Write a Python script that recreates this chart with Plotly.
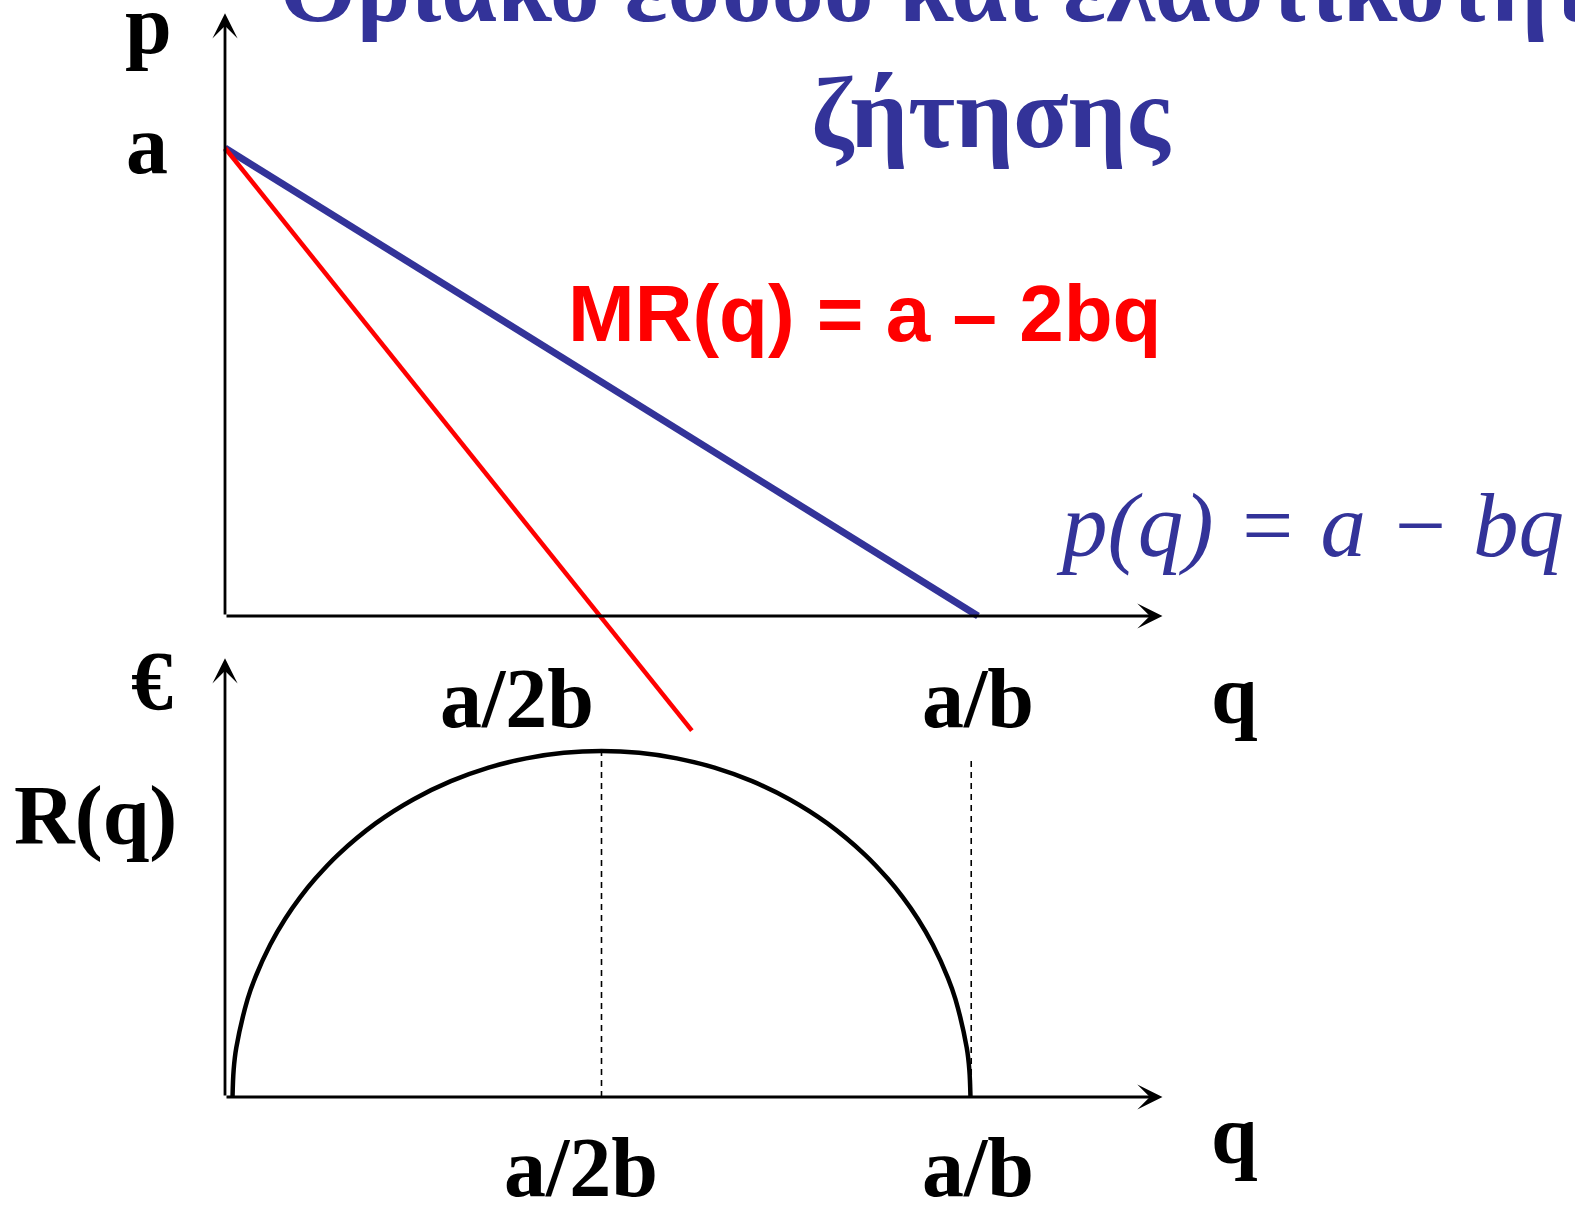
import plotly.graph_objects as go

# ---------------- data (a = b = 1) ----------------
demand_q = [0.0, 1.0]
demand_p = [1.0, 0.0]
mr_q = [0.0, 0.62]
mr_p = [1.0, -0.245]

rev_q = [0.01, 0.0115, 0.015, 0.03, 0.04, 0.06, 0.08, 0.10, 0.12, 0.15, 0.20, 0.25, 0.30,
         0.35, 0.40, 0.45, 0.50, 0.55, 0.60, 0.65, 0.70, 0.75, 0.80, 0.85, 0.88, 0.90,
         0.92, 0.94, 0.96, 0.97, 0.985, 0.9885, 0.99]
rev_r = [0.0, 0.0196, 0.0356, 0.0707, 0.0861, 0.110, 0.1288, 0.1444, 0.1578, 0.175, 0.1977,
         0.2150, 0.2282, 0.2380, 0.2447, 0.2487, 0.25, 0.2487, 0.2447, 0.2380, 0.2282,
         0.2150, 0.1977, 0.175, 0.1578, 0.1444, 0.1288, 0.110, 0.0861, 0.0707, 0.0356,
         0.0196, 0.0]

guide_q = [0.5, 0.991]
guide_top = [0.25, 0.245]

top_axis_tip_q = 1.245
top_axis_tip_p = 1.288
bot_axis_tip_q = 1.245
bot_axis_tip_r = 0.317

W, H = 1575, 1205
S = 1575 / 1568  # readings below were taken on a 1568-wide view
BLUE = "#333399"
RED = "#FF0000"


def px(x):
    return x * S / W


def py(y):
    return 1 - y * S / H


fig = go.Figure()

fig.add_trace(go.Scatter(x=demand_q, y=demand_p, mode="lines",
                         line=dict(color=BLUE, width=7), xaxis="x", yaxis="y",
                         showlegend=False, hoverinfo="skip"))
fig.add_trace(go.Scatter(x=mr_q, y=mr_p, mode="lines",
                         line=dict(color=RED, width=4.5), xaxis="x", yaxis="y",
                         showlegend=False, hoverinfo="skip"))
fig.add_trace(go.Scatter(x=rev_q, y=rev_r, mode="lines",
                         line=dict(color="black", width=4.5, shape="spline", smoothing=1.0),
                         xaxis="x", yaxis="y2", showlegend=False, hoverinfo="skip"))
for gq, gt in zip(guide_q, guide_top):
    fig.add_trace(go.Scatter(x=[gq, gq], y=[0, gt], mode="lines",
                             line=dict(color="black", width=1.6, dash="6px,5px"),
                             xaxis="x", yaxis="y2", showlegend=False, hoverinfo="skip"))

annotations = []


def arrow(x, y, ax, ay, yref):
    annotations.append(dict(x=x, y=y, ax=ax, ay=ay, xref="x", yref=yref,
                            axref="x", ayref=yref, text="", showarrow=True,
                            arrowhead=3, arrowsize=1.5, arrowwidth=2.8,
                            arrowcolor="black", standoff=0))


arrow(0, top_axis_tip_p, 0, 0, "y")
arrow(top_axis_tip_q, 0, 0, 0, "y")
arrow(0, bot_axis_tip_r, 0, 0, "y2")
arrow(bot_axis_tip_q, 0, 0, 0, "y2")


def label(text, x, y, size=84, color="black", family="Liberation Serif", bold=True,
          italic=False):
    t = f"<b>{text}</b>" if bold else text
    if italic:
        t = f"<i>{t}</i>"
    annotations.append(dict(x=px(x), y=py(y), xref="paper", yref="paper",
                            text=t, showarrow=False, xanchor="center", yanchor="middle",
                            font=dict(size=size, color=color, family=family)))


label("p", 148, 24)
label("a", 146, 144)
label("€", 151, 678)
label("R(q)", 95, 812)
label("a/2b", 515, 695)
label("a/b", 974, 695)
label("q", 1229, 691)
label("a/2b", 578, 1162)
label("a/b", 974, 1162)
label("q", 1229, 1129)

label("MR(q) = a – 2bq", 861, 312, size=80, color=RED, family="Liberation Sans")
label("p(q) = a − bq", 1304, 523, size=91, color=BLUE, bold=False, italic=True)

label("Οριακό έσοδο και ελαστικότητα", 960, -12, size=100, color=BLUE)
label("ζήτησης", 987, 112, size=102, color=BLUE)

# q=0 -> 225 px, q=1 -> 978 px ; p=0 -> 616 px, p=1 -> 148 px ; R=0 -> 1097 px, R=0.25 -> 751 px
x0, x1 = 225, 978
x_scale = x1 - x0
x_range = [-x0 / x_scale, (W - x0) / x_scale]
p0, p1 = 616, 148
y_scale = p0 - p1
y_range = [-(H - p0) / y_scale, p0 / y_scale]
r0, rtop = 1097, 751
r_scale = (r0 - rtop) / 0.25
r_range = [-(H - r0) / r_scale, r0 / r_scale]

fig.update_layout(
    width=W, height=H,
    margin=dict(l=0, r=0, t=0, b=0),
    paper_bgcolor="white", plot_bgcolor="white",
    xaxis=dict(range=x_range, visible=False, domain=[0, 1]),
    yaxis=dict(range=y_range, visible=False, domain=[0, 1]),
    yaxis2=dict(range=r_range, visible=False, overlaying="y"),
    annotations=annotations,
    showlegend=False,
)

fig.write_html("out.html", config={"displayModeBar": False},
               post_script="document.body.style.margin='0';document.body.style.overflow='hidden';")
